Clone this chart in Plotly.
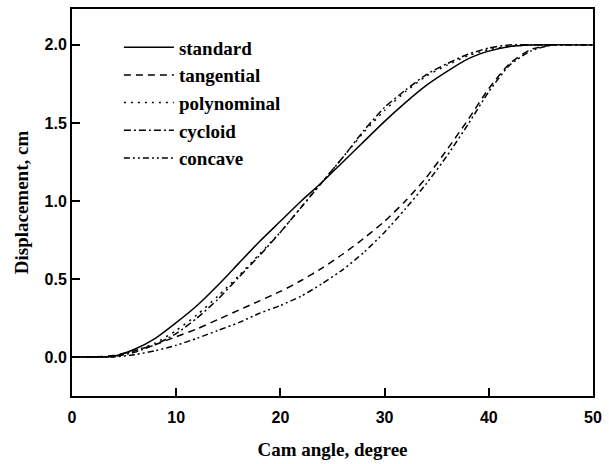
import plotly.graph_objects as go

# cam angle grids (degree)
angle_a = [0, 2, 4, 6, 8, 10, 12, 14, 16, 18, 20, 22, 24, 26, 28, 30, 32, 34, 36, 38, 40, 42, 44, 50]
angle_b = [0, 2, 4, 6, 8, 10, 12, 14, 16, 18, 20, 22, 24, 26, 28, 30, 32, 34, 36, 38, 40, 42, 44, 46]

# displacement, cm
standard = [0, 0, 0.005, 0.05, 0.12, 0.22, 0.33, 0.46, 0.60, 0.74, 0.87, 1.00, 1.12, 1.25,
            1.38, 1.51, 1.63, 1.74, 1.83, 1.91, 1.96, 1.99, 2.0, 2.0]
polynominal = [0, 0, 0.005, 0.04, 0.09, 0.17, 0.27, 0.39, 0.52, 0.66, 0.80, 0.96, 1.12, 1.28,
               1.44, 1.58, 1.70, 1.80, 1.87, 1.93, 1.97, 1.99, 2.0, 2.0]
cycloid = [0, 0, 0.003, 0.03, 0.08, 0.15, 0.25, 0.37, 0.51, 0.65, 0.80, 0.96, 1.12, 1.28,
           1.45, 1.60, 1.71, 1.81, 1.88, 1.94, 1.98, 2.0, 2.0, 2.0]
tangential = [0, 0, 0.01, 0.04, 0.08, 0.13, 0.18, 0.24, 0.30, 0.36, 0.42, 0.49, 0.57, 0.66,
              0.76, 0.87, 1.00, 1.15, 1.33, 1.52, 1.72, 1.88, 1.97, 2.0]
concave = [0, 0, 0, 0.015, 0.04, 0.075, 0.12, 0.17, 0.22, 0.28, 0.33, 0.39, 0.47, 0.56,
           0.67, 0.80, 0.95, 1.11, 1.29, 1.49, 1.70, 1.87, 1.96, 2.0]

x_ticks = [0, 10, 20, 30, 40, 50]
y_ticks = [0.0, 0.5, 1.0, 1.5, 2.0]

series = [
    ("standard", angle_a, standard, "solid"),
    ("tangential", angle_b, tangential, "7px,5px"),
    ("polynominal", angle_a, polynominal, "2px,5px"),
    ("cycloid", angle_a, cycloid, "7px,3px,2px,3px"),
    ("concave", angle_b, concave, "6px,3px,2px,3px,2px,3px"),
]

fig = go.Figure()
for name, xs, ys, dash in series:
    fig.add_trace(go.Scatter(x=xs, y=ys, name=name, mode="lines",
                             line=dict(color="black", width=1.5, dash=dash,
                                       shape="spline", smoothing=0.6)))

axis_style = dict(showline=True, linecolor="black", linewidth=2, mirror=True,
                  ticks="inside", ticklen=8, tickwidth=1.5, tickcolor="black",
                  showgrid=False, zeroline=False,
                  tickfont=dict(family="Liberation Sans", size=16, color="black", weight="bold"))

fig.update_xaxes(range=[0, 50], tickvals=x_ticks, ticklabelstandoff=6,
                 title=dict(text="<b>Cam angle, degree</b>", standoff=17,
                            font=dict(family="Liberation Serif", size=19, color="black")),
                 **axis_style)
fig.update_yaxes(range=[-0.25, 2.23], tickvals=y_ticks, tickformat=".1f",
                 title=dict(text="<b>Displacement, cm</b>", standoff=11,
                            font=dict(family="Liberation Serif", size=19, color="black")),
                 **axis_style)

fig.update_layout(
    width=609, height=464,
    margin=dict(l=72, r=16, t=7, b=62),
    paper_bgcolor="white", plot_bgcolor="white",
    showlegend=True,
    legend=dict(x=0.09, y=0.95, xanchor="left", yanchor="top",
                bgcolor="rgba(0,0,0,0)", itemwidth=50, tracegroupgap=0,
                font=dict(family="Liberation Serif", size=19, color="black", weight="bold")),
)

# drop the default page margin so the figure sits at the window corner
fig.write_html("out.html", config={"displayModeBar": False},
               post_script="document.body.style.margin='0';")
